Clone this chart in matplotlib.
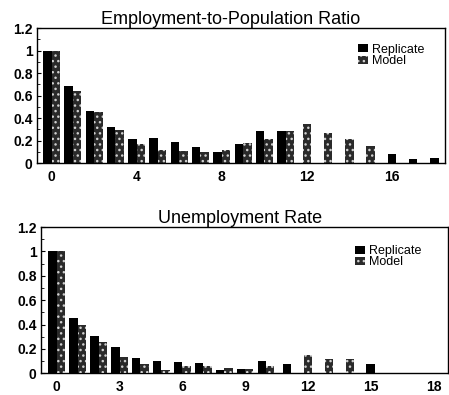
import numpy as np
import matplotlib
matplotlib.use("Agg")
import matplotlib.pyplot as plt
from matplotlib.patches import Patch

plt.rcParams['font.family'] = ['Liberation Sans Narrow', 'Liberation Sans', 'DejaVu Sans']
plt.rcParams['hatch.linewidth'] = 1.0

nan = np.nan

# Employment-to-population ratio responses, horizons 0..18
emp_x = list(range(19))
emp_replicate = [1.00, 0.686, 0.464, 0.32, 0.21, 0.222, 0.186, 0.147, 0.103, 0.169,
                 0.284, 0.284, nan, nan, nan, nan, 0.08, 0.038, 0.047]
emp_model = [1.00, 0.642, 0.458, 0.296, 0.169, 0.115, 0.112, 0.103, 0.115, 0.18,
             0.213, 0.284, 0.352, 0.272, 0.216, 0.151, nan, nan, nan]

# Unemployment rate responses, horizons 0..15
unemp_x = list(range(16))
unemp_replicate = [1.00, 0.45, 0.31, 0.217, 0.123, 0.098, 0.095, 0.082, 0.025, 0.035,
                   0.10, 0.074, nan, nan, nan, 0.08]
unemp_model = [1.00, 0.40, 0.26, 0.136, 0.079, 0.027, 0.06, 0.057, 0.046, 0.035,
               0.057, nan, 0.15, 0.114, 0.12, nan]

series_names = ["Replicate", "Model"]
y_ticks = [0, 0.2, 0.4, 0.6, 0.8, 1.0, 1.2]
y_tick_labels = ["0", "0.2", "0.4", "0.6", "0.8", "1", "1.2"]

W = 0.4
MODEL_FACE = "#2a2a2a"
MODEL_DOTS = "#cfcfcf"


def draw_model_bar(ax, x, h, w):
    ax.bar(x, h, w, color=MODEL_FACE, linewidth=0, zorder=2)
    ax.bar(x, h, w, facecolor="none", edgecolor=MODEL_DOTS, hatch="...",
           linewidth=0, zorder=3)


def draw_panel(ax, xs, rep, mod, title, title_x, xticks, xlim, legend_anchor):
    for x, r, m in zip(xs, rep, mod):
        has_r = not np.isnan(r)
        has_m = not np.isnan(m)
        if has_r and has_m:
            ax.bar(x - W / 2, r, W, color="black", linewidth=0, zorder=2)
            draw_model_bar(ax, x + W / 2, m, W)
        elif has_r:
            ax.bar(x, r, W, color="black", linewidth=0, zorder=2)
        elif has_m:
            draw_model_bar(ax, x, m, W)
    ax.set_xlim(*xlim)
    ax.set_ylim(0, 1.2)
    ax.set_xticks(xticks)
    ax.set_xticklabels([str(t) for t in xticks], fontsize=10, fontweight="bold",
                       family=["Liberation Sans", "DejaVu Sans"])
    ax.set_yticks(y_ticks)
    ax.set_yticklabels(y_tick_labels, fontsize=10, fontweight="bold",
                       family=["Liberation Sans", "DejaVu Sans"])
    ax.set_yticks(np.arange(0.1, 1.2, 0.2), minor=True)
    ax.tick_params(axis="both", which="major", direction="in", length=3,
                   width=0.8, pad=3)
    ax.tick_params(axis="y", which="minor", direction="in", length=2, width=0.6)
    ax.tick_params(axis="x", which="major", length=0, pad=5)
    for s in ax.spines.values():
        s.set_linewidth(1.0)
    ax.set_title(title, fontsize=13, pad=3, x=title_x)

    handles = [Patch(facecolor="black", linewidth=0),
               Patch(facecolor=MODEL_FACE, edgecolor=MODEL_DOTS, hatch="...",
                     linewidth=0)]
    ax.legend(handles, series_names, loc="upper right",
              bbox_to_anchor=legend_anchor, frameon=False, fontsize=9,
              labelspacing=-0.05, handlelength=0.8, handleheight=0.6,
              handletextpad=0.3, borderpad=0)


fig = plt.figure(figsize=(4.49, 3.95), dpi=100)
ax1 = fig.add_axes([0.082, 0.587, 0.909, 0.342])
ax2 = fig.add_axes([0.091, 0.055, 0.907, 0.370])

draw_panel(ax1, emp_x, emp_replicate, emp_model, "Employment-to-Population Ratio",
           0.475, [0, 4, 8, 12, 16], (-0.7, 18.5), (0.965, 0.93))
draw_panel(ax2, unemp_x, unemp_replicate, unemp_model, "Unemployment Rate",
           0.49, [0, 3, 6, 9, 12, 15, 18], (-0.76, 18.7), (0.95, 0.92))

fig.savefig("out.png", dpi=100)
